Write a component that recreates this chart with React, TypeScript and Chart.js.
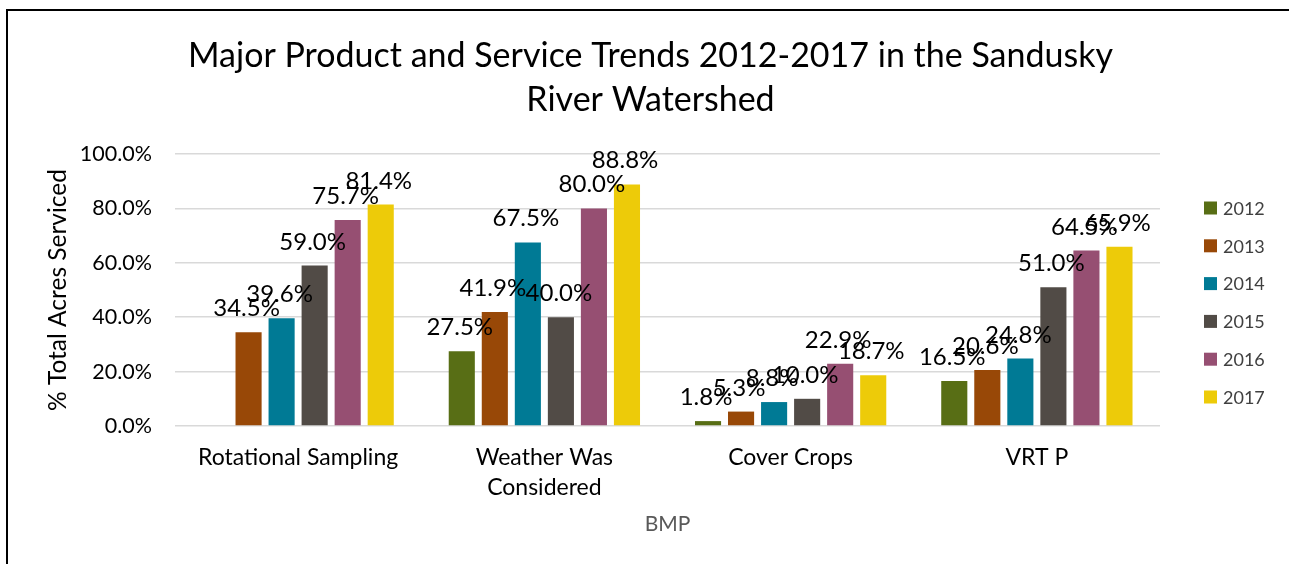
import React, { useEffect, useRef } from "react";
import { Chart, registerables } from "chart.js";

Chart.register(...registerables);

const categories: (string | string[])[] = [
  "Rotational Sampling",
  ["Weather Was", "Considered"],
  "Cover Crops",
  "VRT P",
];
const years = ["2012", "2013", "2014", "2015", "2016", "2017"];
const v2012: (number | null)[] = [null, 27.5, 1.8, 16.5];
const v2013: (number | null)[] = [34.5, 41.9, 5.3, 20.6];
const v2014: (number | null)[] = [39.6, 67.5, 8.8, 24.8];
const v2015: (number | null)[] = [59.0, 40.0, 10.0, 51.0];
const v2016: (number | null)[] = [75.7, 80.0, 22.9, 64.5];
const v2017: (number | null)[] = [81.4, 88.8, 18.7, 65.9];
const colors = ["#586E15", "#984807", "#007A95", "#514B46", "#964F72", "#EDCB09"];
const yTicks = [0, 20, 40, 60, 80, 100];
const titleLines = ["Major Product and Service Trends 2012-2017 in the Sandusky", "River Watershed"];
const yTitle = "% Total Acres Serviced";
const xTitle = "BMP";

const FONT = "Lato, 'Noto Sans', sans-serif";

const titlePlugin = {
  id: "customTitle",
  afterDraw(chart: any) {
    const ctx = chart.ctx;
    ctx.save();
    ctx.font = `34px ${FONT}`;
    ctx.fillStyle = "#000000";
    ctx.textAlign = "center";
    ctx.textBaseline = "middle";
    const cx = chart.width / 2 + 6;
    titleLines.forEach((line, i) => {
      ctx.fillText(line, cx, 56 + i * 44);
    });
    ctx.restore();
  },
};

const labelPlugin = {
  id: "barLabels",
  afterDatasetsDraw(chart: any) {
    const ctx = chart.ctx;
    ctx.save();
    ctx.font = `24px ${FONT}`;
    ctx.fillStyle = "#000000";
    ctx.textAlign = "center";
    ctx.textBaseline = "alphabetic";
    chart.data.datasets.forEach((ds: any, di: number) => {
      const meta = chart.getDatasetMeta(di);
      meta.data.forEach((bar: any, i: number) => {
        const v = ds.data[i];
        if (v === null || v === undefined) return;
        ctx.fillText(v.toFixed(1) + "%", bar.x - 2, bar.y - 16);
      });
    });
    ctx.restore();
  },
};

const legendPlugin = {
  id: "customLegend",
  afterDraw(chart: any) {
    const ctx = chart.ctx;
    const area = chart.chartArea;
    ctx.save();
    ctx.font = `18px ${FONT}`;
    ctx.textBaseline = "middle";
    ctx.textAlign = "left";
    chart.data.datasets.forEach((ds: any, i: number) => {
      const y = 208 + i * 37.8;
      const x = area.right + 44;
      ctx.fillStyle = ds.backgroundColor;
      ctx.fillRect(x, y - 6.5, 13, 13);
      ctx.fillStyle = "#404040";
      ctx.fillText(ds.label, x + 19, y + 1);
    });
    ctx.restore();
  },
};

export default function App() {
  const ref = useRef<HTMLCanvasElement | null>(null);
  useEffect(() => {
    if (!ref.current) return;
    const series = [v2012, v2013, v2014, v2015, v2016, v2017];
    const chart = new Chart(ref.current, {
      type: "bar",
      data: {
        labels: categories as any,
        datasets: series.map((d, i) => ({
          label: years[i],
          data: d,
          backgroundColor: colors[i],
          borderWidth: 0,
          categoryPercentage: 0.805,
          barPercentage: 0.79,
        })),
      },
      options: {
        animation: false,
        responsive: false,
        devicePixelRatio: 1,
        layout: { padding: { top: 154, left: 0, right: 129, bottom: 0 } },
        plugins: {
          legend: { display: false },
          tooltip: { enabled: false },
          title: { display: false },
        },
        scales: {
          x: {
            grid: { display: false },
            border: { display: false },
            ticks: {
              color: "#000000",
              font: { family: FONT, size: 23, lineHeight: 30 / 23 },
              padding: 9,
              maxRotation: 0,
              autoSkip: false,
            },
            title: {
              display: true,
              text: xTitle,
              color: "#595959",
              font: { family: FONT, size: 21, lineHeight: 1.2 },
              padding: { top: 0, bottom: 27 },
            },
            afterFit: (s: any) => {
              s.height = 138;
            },
          },
          y: {
            min: 0,
            max: 100,
            afterBuildTicks: (s: any) => {
              s.ticks = yTicks.map((v) => ({ value: v }));
            },
            grid: { color: "#D9D9D9", lineWidth: 1.5, drawTicks: false },
            border: { display: false },
            ticks: {
              color: "#000000",
              font: { family: FONT, size: 21.5 },
              padding: 23,
              callback: (v: any) => Number(v).toFixed(1) + "%",
            },
            title: {
              display: true,
              text: yTitle,
              color: "#000000",
              font: { family: FONT, size: 24.5, lineHeight: 1.2 },
              padding: { top: 43, bottom: 0 },
            },
            afterFit: (s: any) => {
              s.width = 175;
            },
          },
        },
      },
      plugins: [labelPlugin, legendPlugin, titlePlugin],
    });
    return () => chart.destroy();
  }, []);

  return (
    <>
      <canvas
        ref={ref}
        width={1289}
        height={564}
        style={{ position: "fixed", left: 0, top: 0, width: 1289, height: 564 }}
      />
      <div
        style={{
          position: "fixed",
          left: 6,
          top: 9,
          width: 1300,
          height: 600,
          border: "2px solid #000",
          pointerEvents: "none",
        }}
      />
    </>
  );
}
